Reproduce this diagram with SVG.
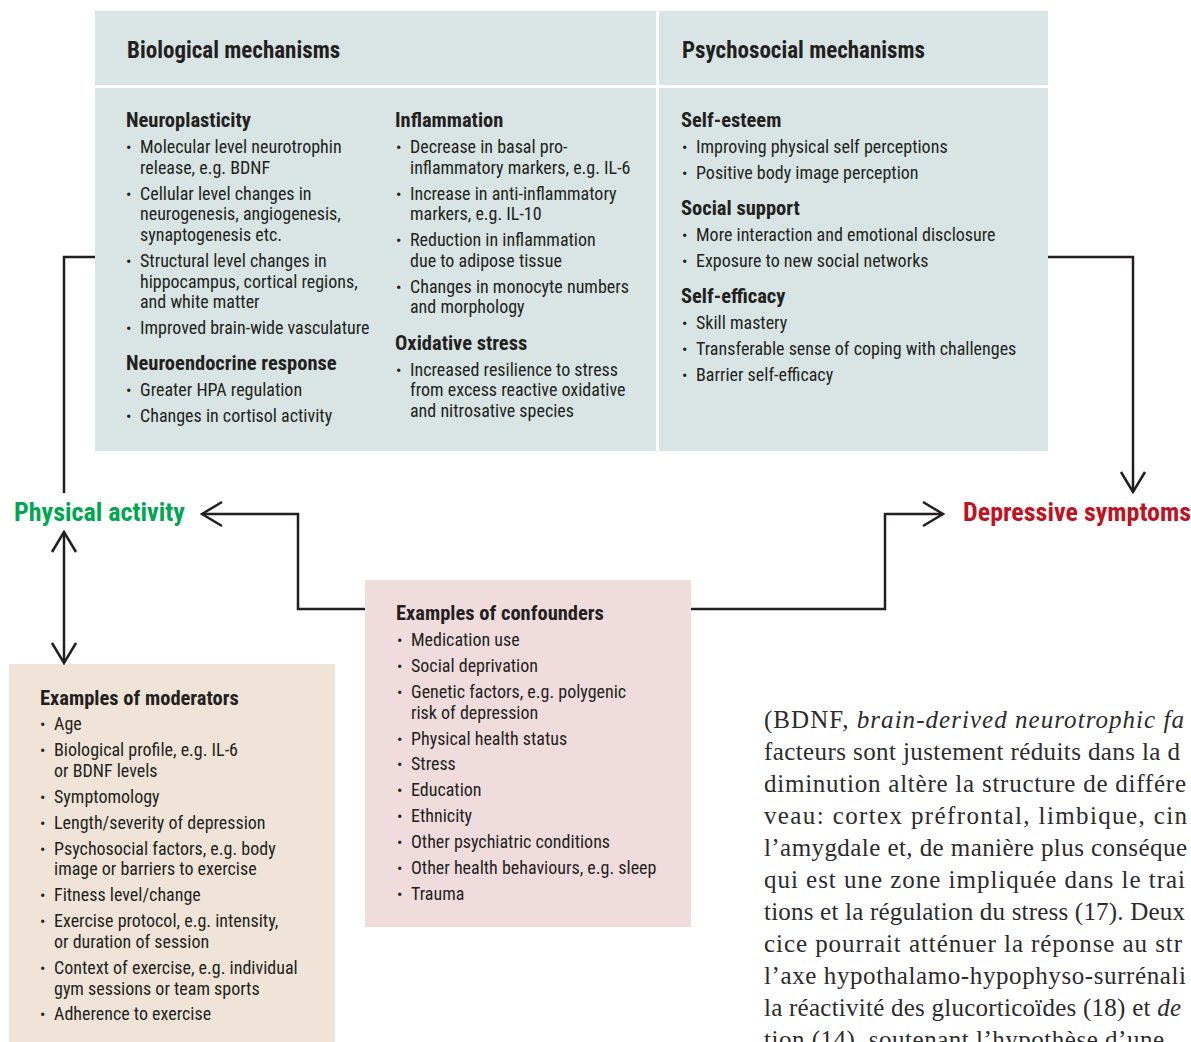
<svg xmlns="http://www.w3.org/2000/svg" width="1191" height="1042" viewBox="0 0 1191 1042">
<defs>
<style>
text{font-family:"Roboto Condensed","Liberation Sans Narrow",Roboto,sans-serif;font-stretch:condensed;fill:#231f20}
.hdr{font-size:23px;font-weight:700}
.h{font-size:20.5px;font-weight:700}
.t{font-size:18px;font-weight:400}
.b{font-size:16px}
.lab{font-size:26px;font-weight:700}
.conn{fill:none;stroke:#231f20;stroke-width:2.5}
.fr{font-family:"Liberation Serif","DejaVu Serif",serif;font-stretch:normal;font-size:25px;fill:#2b2b2b}
</style>
<marker id="arr" viewBox="0 0 24 28" refX="22" refY="14" markerWidth="24" markerHeight="28" markerUnits="userSpaceOnUse" orient="auto-start-reverse">
<path d="M2,2 L22,14 L2,26" fill="none" stroke="#231f20" stroke-width="2.5"/>
</marker>
</defs>
<rect width="1191" height="1042" fill="#fff"/>

<g id="biological">
<rect x="95" y="11" width="561" height="74" fill="#d8e5e4"/>
<rect x="95" y="88" width="561" height="363" fill="#d8e5e4"/>
<text class="hdr" x="127" y="58">Biological mechanisms</text>
<text class="h" x="126" y="127">Neuroplasticity</text>
<text class="b" x="126" y="153">•</text><text class="t" x="140" y="153">Molecular level neurotrophin</text>
<text class="t" x="140" y="174">release, e.g. BDNF</text>
<text class="b" x="126" y="200">•</text><text class="t" x="140" y="200">Cellular level changes in</text>
<text class="t" x="140" y="220">neurogenesis, angiogenesis,</text>
<text class="t" x="140" y="241">synaptogenesis etc.</text>
<text class="b" x="126" y="267">•</text><text class="t" x="140" y="267">Structural level changes in</text>
<text class="t" x="140" y="288">hippocampus, cortical regions,</text>
<text class="t" x="140" y="308">and white matter</text>
<text class="b" x="126" y="334">•</text><text class="t" x="140" y="334">Improved brain-wide vasculature</text>
<text class="h" x="126" y="370">Neuroendocrine response</text>
<text class="b" x="126" y="396">•</text><text class="t" x="140" y="396">Greater HPA regulation</text>
<text class="b" x="126" y="422">•</text><text class="t" x="140" y="422">Changes in cortisol activity</text>

<text class="h" x="395" y="127">Inflammation</text>
<text class="b" x="396" y="153">•</text><text class="t" x="410" y="153">Decrease in basal pro-</text>
<text class="t" x="410" y="174">inflammatory markers, e.g. IL-6</text>
<text class="b" x="396" y="200">•</text><text class="t" x="410" y="200">Increase in anti-inflammatory</text>
<text class="t" x="410" y="220">markers, e.g. IL-10</text>
<text class="b" x="396" y="246">•</text><text class="t" x="410" y="246">Reduction in inflammation</text>
<text class="t" x="410" y="267">due to adipose tissue</text>
<text class="b" x="396" y="293">•</text><text class="t" x="410" y="293">Changes in monocyte numbers</text>
<text class="t" x="410" y="313">and morphology</text>
<text class="h" x="395" y="350">Oxidative stress</text>
<text class="b" x="396" y="376">•</text><text class="t" x="410" y="376">Increased resilience to stress</text>
<text class="t" x="410" y="396">from excess reactive oxidative</text>
<text class="t" x="410" y="417">and nitrosative species</text>
</g>

<g id="psychosocial">
<rect x="659" y="11" width="389" height="74" fill="#d8e5e4"/>
<rect x="659" y="88" width="389" height="363" fill="#d8e5e4"/>
<text class="hdr" x="682" y="58">Psychosocial mechanisms</text>
<text class="h" x="681" y="127">Self-esteem</text>
<text class="b" x="682" y="153">•</text><text class="t" x="696" y="153">Improving physical self perceptions</text>
<text class="b" x="682" y="179">•</text><text class="t" x="696" y="179">Positive body image perception</text>
<text class="h" x="681" y="215">Social support</text>
<text class="b" x="682" y="241">•</text><text class="t" x="696" y="241">More interaction and emotional disclosure</text>
<text class="b" x="682" y="267">•</text><text class="t" x="696" y="267">Exposure to new social networks</text>
<text class="h" x="681" y="303">Self-efficacy</text>
<text class="b" x="682" y="329">•</text><text class="t" x="696" y="329">Skill mastery</text>
<text class="b" x="682" y="355">•</text><text class="t" x="696" y="355">Transferable sense of coping with challenges</text>
<text class="b" x="682" y="381">•</text><text class="t" x="696" y="381">Barrier self-efficacy</text>
</g>

<g id="physical-activity">
<text class="lab" x="14" y="521" style="fill:#00a651">Physical activity</text>
</g>

<g id="depressive-symptoms">
<text class="lab" x="963" y="521" style="fill:#c1121f">Depressive symptoms</text>
</g>

<g id="moderators">
<rect x="9" y="664" width="326" height="378" fill="#f0e4d8"/>
<text class="h" x="40" y="705">Examples of moderators</text>
<text class="b" x="40" y="730">•</text><text class="t" x="54" y="730">Age</text>
<text class="b" x="40" y="756">•</text><text class="t" x="54" y="756">Biological profile, e.g. IL-6</text>
<text class="t" x="54" y="777">or BDNF levels</text>
<text class="b" x="40" y="803">•</text><text class="t" x="54" y="803">Symptomology</text>
<text class="b" x="40" y="829">•</text><text class="t" x="54" y="829">Length/severity of depression</text>
<text class="b" x="40" y="855">•</text><text class="t" x="54" y="855">Psychosocial factors, e.g. body</text>
<text class="t" x="54" y="875">image or barriers to exercise</text>
<text class="b" x="40" y="901">•</text><text class="t" x="54" y="901">Fitness level/change</text>
<text class="b" x="40" y="927">•</text><text class="t" x="54" y="927">Exercise protocol, e.g. intensity,</text>
<text class="t" x="54" y="948">or duration of session</text>
<text class="b" x="40" y="974">•</text><text class="t" x="54" y="974">Context of exercise, e.g. individual</text>
<text class="t" x="54" y="995">gym sessions or team sports</text>
<text class="b" x="40" y="1020">•</text><text class="t" x="54" y="1020">Adherence to exercise</text>
</g>

<g id="confounders">
<rect x="365" y="580" width="326" height="347" fill="#f0dcdc"/>
<text class="h" x="396" y="620">Examples of confounders</text>
<text class="b" x="397" y="646">•</text><text class="t" x="411" y="646">Medication use</text>
<text class="b" x="397" y="672">•</text><text class="t" x="411" y="672">Social deprivation</text>
<text class="b" x="397" y="698">•</text><text class="t" x="411" y="698">Genetic factors, e.g. polygenic</text>
<text class="t" x="411" y="719">risk of depression</text>
<text class="b" x="397" y="745">•</text><text class="t" x="411" y="745">Physical health status</text>
<text class="b" x="397" y="770">•</text><text class="t" x="411" y="770">Stress</text>
<text class="b" x="397" y="796">•</text><text class="t" x="411" y="796">Education</text>
<text class="b" x="397" y="822">•</text><text class="t" x="411" y="822">Ethnicity</text>
<text class="b" x="397" y="848">•</text><text class="t" x="411" y="848">Other psychiatric conditions</text>
<text class="b" x="397" y="874">•</text><text class="t" x="411" y="874">Other health behaviours, e.g. sleep</text>
<text class="b" x="397" y="900">•</text><text class="t" x="411" y="900">Trauma</text>
</g>

<g id="connectors">
<path class="conn" d="M95,257 H64 V493"/>
<path class="conn" d="M1048,257 H1133 V492" marker-end="url(#arr)"/>
<path class="conn" d="M64,532 V663" marker-start="url(#arr)" marker-end="url(#arr)"/>
<path class="conn" d="M365,609 H298 V514 H202" marker-end="url(#arr)"/>
<path class="conn" d="M691,609 H885 V514 H943" marker-end="url(#arr)"/>
</g>

<g id="article-text">
<text class="fr" x="764" y="728" textLength="420" lengthAdjust="spacing">(BDNF, <tspan font-style="italic">brain-derived neurotrophic fa</tspan></text>
<text class="fr" x="764" y="760" textLength="416" lengthAdjust="spacing">facteurs sont justement réduits dans la d</text>
<text class="fr" x="764" y="792" textLength="422" lengthAdjust="spacing">diminution altère la structure de différe</text>
<text class="fr" x="764" y="824" textLength="423" lengthAdjust="spacing">veau: cortex préfrontal, limbique, cin</text>
<text class="fr" x="764" y="856" textLength="423" lengthAdjust="spacing">l’amygdale et, de manière plus conséque</text>
<text class="fr" x="764" y="888" textLength="421" lengthAdjust="spacing">qui est une zone impliquée dans le trai</text>
<text class="fr" x="764" y="920" textLength="421" lengthAdjust="spacing">tions et la régulation du stress (17). Deux</text>
<text class="fr" x="764" y="952" textLength="418" lengthAdjust="spacing">cice pourrait atténuer la réponse au str</text>
<text class="fr" x="764" y="984" textLength="422" lengthAdjust="spacing">l’axe hypothalamo-hypophyso-surrénali</text>
<text class="fr" x="764" y="1016" textLength="417" lengthAdjust="spacing">la réactivité des glucorticoïdes (18) et <tspan font-style="italic">de</tspan></text>
<text class="fr" x="764" y="1048" textLength="400" lengthAdjust="spacing">tion (14), soutenant l’hypothèse d’une</text>
</g>
</svg>
